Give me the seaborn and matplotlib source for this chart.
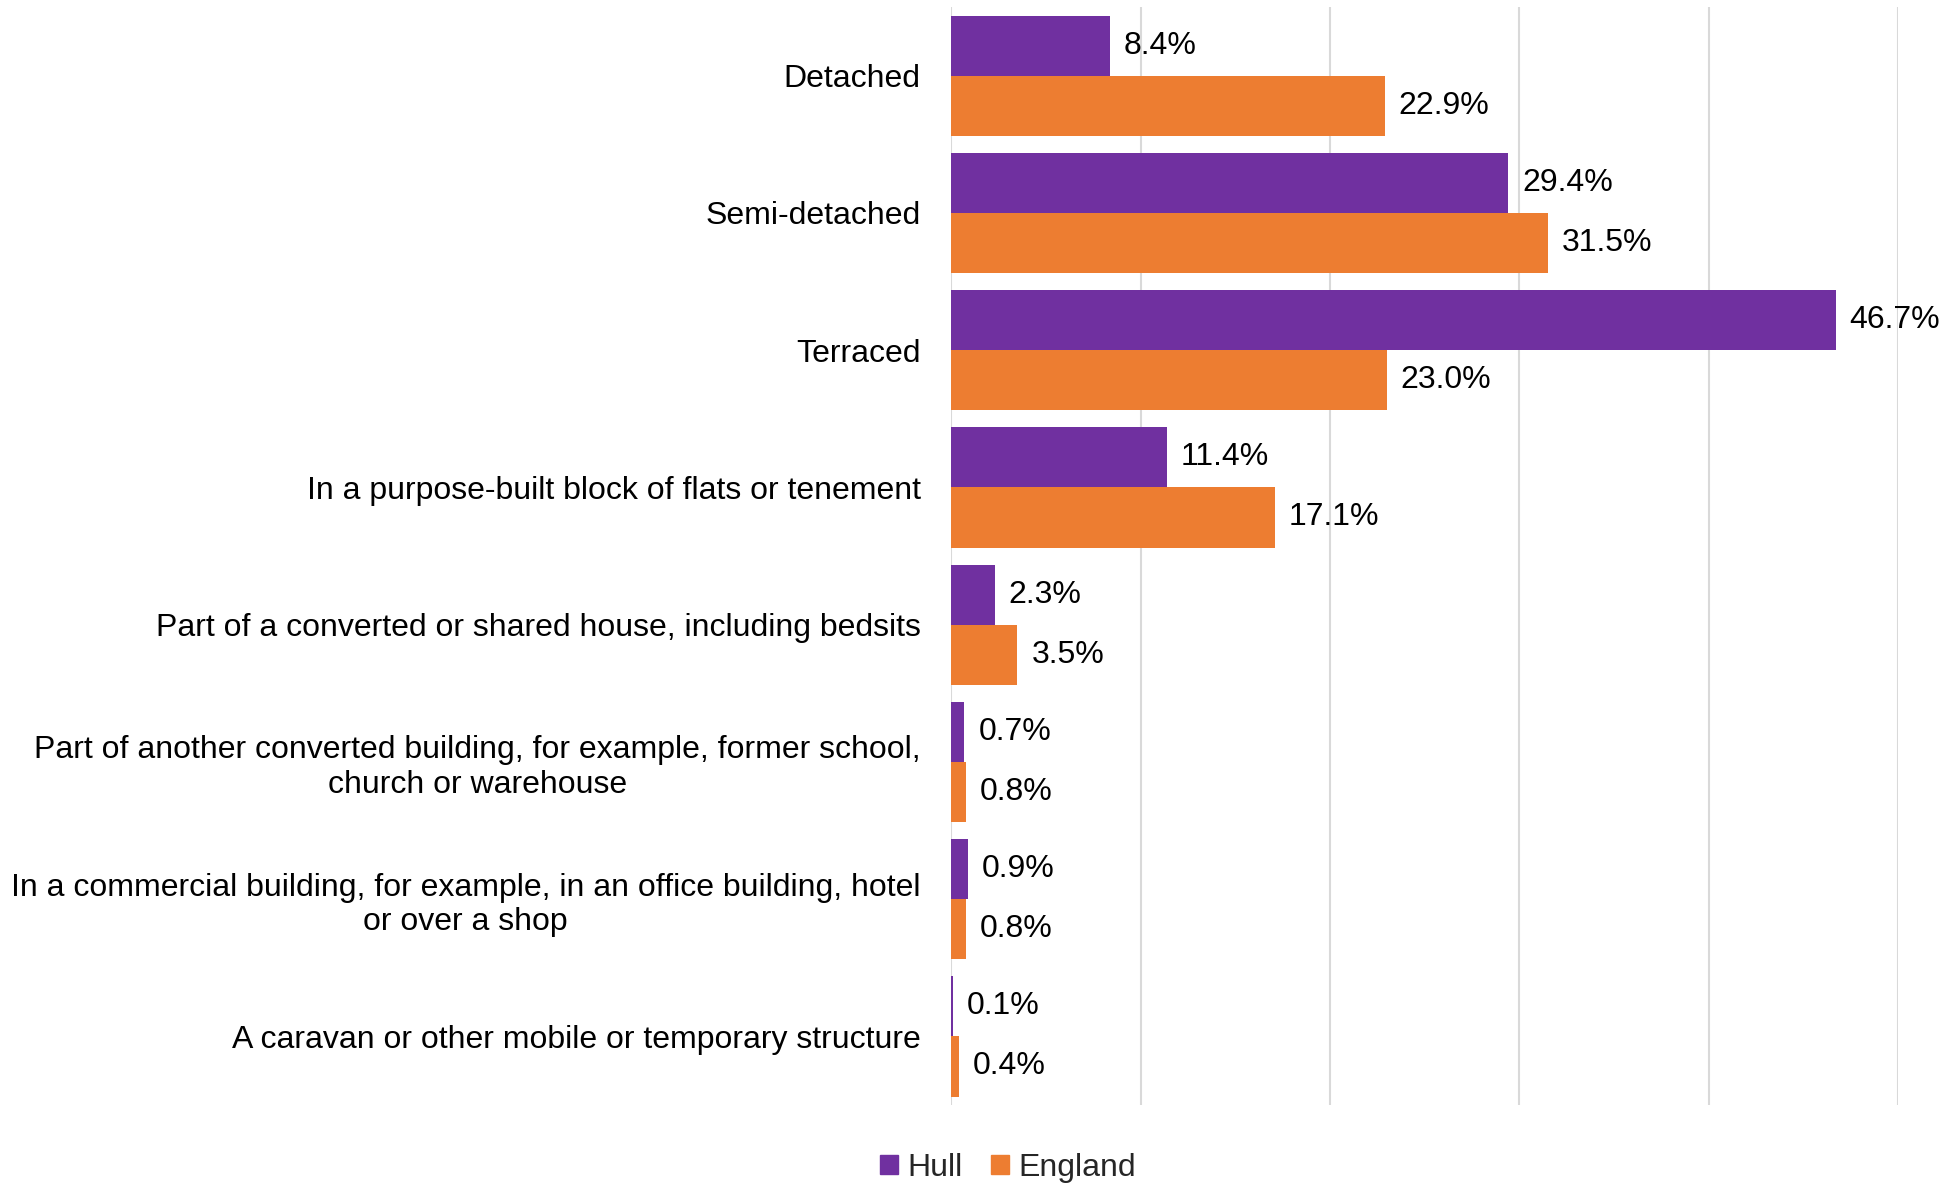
import pandas as pd
import seaborn as sns
import matplotlib.pyplot as plt

sns.set_theme(style="white")
plt.rcParams['font.family'] = ['Liberation Sans', 'DejaVu Sans']

categories = [
    "Detached",
    "Semi-detached",
    "Terraced",
    "In a purpose-built block of flats or tenement",
    "Part of a converted or shared house, including bedsits",
    "Part of another converted building, for example, former school,\nchurch or warehouse",
    "In a commercial building, for example, in an office building, hotel\nor over a shop",
    "A caravan or other mobile or temporary structure",
]
hull = [8.4, 29.4, 46.7, 11.4, 2.3, 0.7, 0.9, 0.1]
england = [22.9, 31.5, 23.0, 17.1, 3.5, 0.8, 0.8, 0.4]
areas = ["Hull", "England"]
colors = ["#7030A0", "#ED7D31"]

df = pd.DataFrame({
    "category": categories * 2,
    "area": ["Hull"] * len(categories) + ["England"] * len(categories),
    "value": hull + england,
})

fig = plt.figure(figsize=(19.57, 11.85), dpi=100)
ax = fig.add_axes([0.486, 0.0675, 0.484, 0.9265])

sns.barplot(data=df, y="category", x="value", hue="area", hue_order=areas,
            palette=colors, orient="h", width=0.876, gap=0, ax=ax,
            saturation=1, legend=False, errorbar=None, linewidth=0)

for cont in ax.containers:
    lbls = ax.bar_label(cont, fmt="%.1f%%", padding=10, fontsize=23, color="black")
    for t in lbls:
        t.set_y(t.get_position()[1])
        t.set_va("center")

ax.set_xlim(0, 50)
ax.set_xticks([0, 10, 20, 30, 40, 50])
ax.set_xticklabels([])
ax.xaxis.grid(True, color="#D9D9D9", linewidth=1.5)
ax.set_axisbelow(True)
ax.set_xlabel("")
ax.set_ylabel("")
ax.tick_params(axis="y", length=0, labelsize=23, pad=22)
ax.tick_params(axis="x", length=0)
for lab in ax.get_yticklabels():
    lab.set_multialignment("center")
    lab.set_color("black")
for s in ax.spines.values():
    s.set_visible(False)

handles = [plt.Rectangle((0, 0), 1, 1, color=c) for c in colors]
fig.legend(handles, areas, loc="center", bbox_to_anchor=(1008 / 1957, 0.0143),
           ncol=2, frameon=False, fontsize=23, handlelength=0.55, handleheight=0.55,
           handletextpad=0.3, columnspacing=0.9)

fig.savefig("out.png", dpi=100)
